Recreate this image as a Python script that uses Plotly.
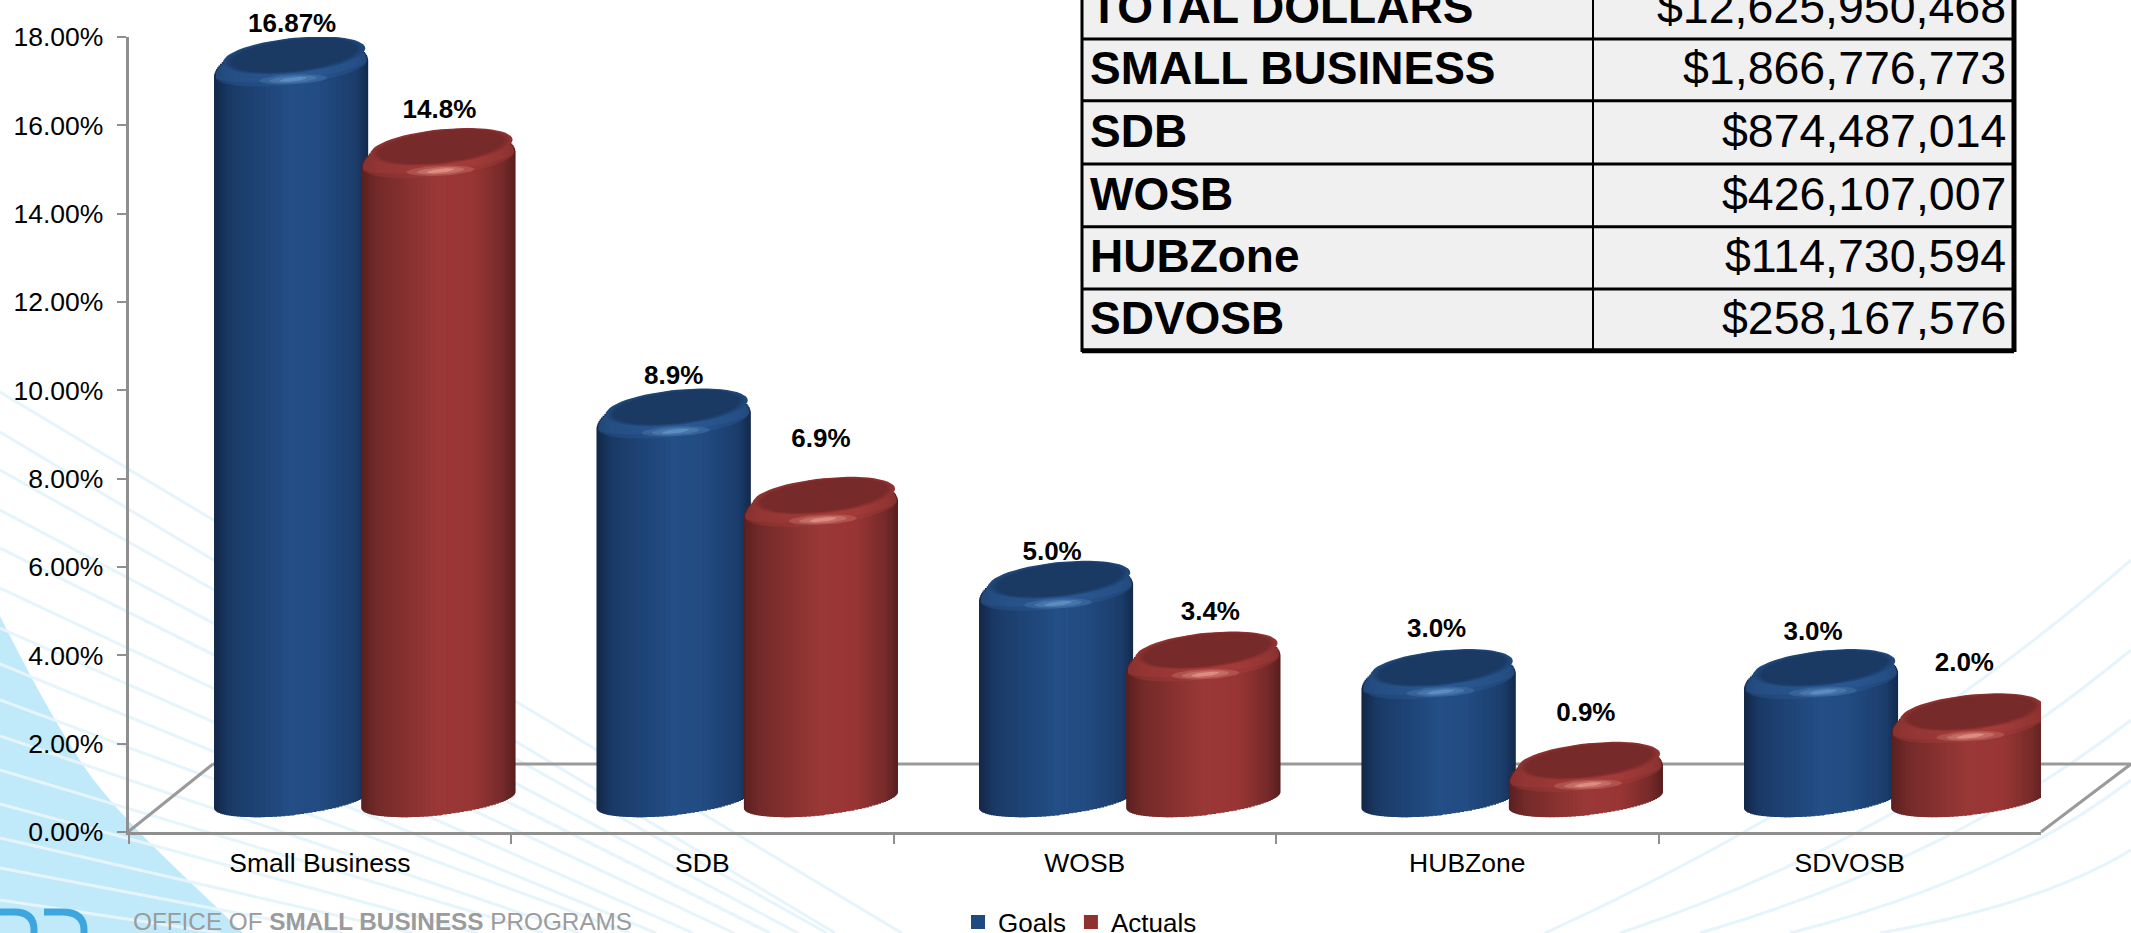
import math
import plotly.graph_objects as go

W, H = 2131, 933

# ---------- data ----------
categories = ["Small Business", "SDB", "WOSB", "HUBZone", "SDVOSB"]
goals = [16.87, 8.9, 5.0, 3.0, 3.0]
actuals = [14.8, 6.9, 3.4, 0.9, 2.0]
goal_labels = ["16.87%", "8.9%", "5.0%", "3.0%", "3.0%"]
actual_labels = ["14.8%", "6.9%", "3.4%", "0.9%", "2.0%"]
y_ticks = [0, 2, 4, 6, 8, 10, 12, 14, 16, 18]
y_tick_text = ["0.00%", "2.00%", "4.00%", "6.00%", "8.00%", "10.00%", "12.00%", "14.00%", "16.00%", "18.00%"]
table_names = ["TOTAL DOLLARS", "SMALL BUSINESS", "SDB", "WOSB", "HUBZone", "SDVOSB"]
table_values = ["$12,625,950,468", "$1,866,776,773", "$874,487,014", "$426,107,007", "$114,730,594", "$258,167,576"]

# ---------- styling / projection constants ----------
PXY = 18 / 795.0          # value units per pixel
PXX = 1 / 382.5           # category units per pixel
TOP_DEPTH = 0.41          # 3-D shift of the top ellipse
FLOOR = 0.72              # 3-D shift of the bottom ellipse
HALF_W = 77 * PXX
SHEAR = 8 * PXY
B_TOP = 30 * PXY
B_BOT = 15 * PXY
N_STRIPS = 56
SERIES = [
    dict(name="Goals", vals=goals, labels=goal_labels, off=-0.075, main="#1f4a80",
         stops=[(0, "#132748"), (0.10, "#1a3a66"), (0.5, "#234e86"), (0.68, "#224c82"), (0.92, "#1b3d6b"), (1, "#132a4c")],
         cap=["#204878", "#1e4372", "#1c3e6b", "#1a3963"], rim="#2d5f9a", glow="#6fa0d0",
         lift=[12, 12, 9, 20, 17], dx=[1, 0, -4, -2, -8]),
    dict(name="Actuals", vals=actuals, labels=actual_labels, off=0.31, main="#8e3230",
         stops=[(0, "#5a2020"), (0.10, "#732a29"), (0.5, "#9a3837"), (0.72, "#993635"), (0.92, "#752a29"), (1, "#581e1e")],
         cap=["#8f3332", "#872f2f", "#7f2c2c", "#772a2a"], rim="#a83f3b", glow="#f0a89c",
         lift=[18, 38, 19, 29, 30], dx=[1, 0, 7, 0, -4]),
]


def X(px):
    return px / W


def Y(py):
    return 1 - py / H


def hex2rgb(h):
    return [int(h[i:i + 2], 16) for i in (1, 3, 5)]


def shade(stops, t):
    for (a, ca), (b, cb) in zip(stops, stops[1:]):
        if t <= b:
            f = (t - a) / (b - a)
            ra, rb = hex2rgb(ca), hex2rgb(cb)
            return "rgb(%d,%d,%d)" % tuple(round(p + (q - p) * f) for p, q in zip(ra, rb))
    return stops[-1][1]


def rgba(h, a):
    r, g, b = hex2rgb(h)
    return "rgba(%d,%d,%d,%.3f)" % (r, g, b, a)


def ellipse(cx, cy, a, b, s, n=56):
    xs, ys = [], []
    for i in range(n + 1):
        t = 2 * math.pi * i / n
        xs.append(cx + a * math.cos(t))
        ys.append(cy + s * math.cos(t) + b * math.sin(t))
    return xs + [None], ys + [None]


def rim(cx, cy, low_px, n=56):
    xs, ys = [], []
    for i in range(n + 1):
        t = 2 * math.pi * i / n
        b = B_TOP * 0.985 if math.sin(t) > 0 else low_px * PXY
        xs.append(cx + HALF_W * 0.985 * math.cos(t))
        ys.append(cy + SHEAR * math.cos(t) + b * math.sin(t))
    return xs + [None], ys + [None]


fig = go.Figure()

# Series bars on the category axis (these carry the values and the legend)
for s in SERIES:
    fig.add_trace(go.Bar(
        name=s["name"], x=categories, y=s["vals"], base=FLOOR, width=0.28, offset=s["off"] - 0.14,
        marker=dict(color=s["main"], line=dict(width=2, color=s["main"])), cliponaxis=False, showlegend=True,
        hoverinfo="x+y+name", xaxis="x", yaxis="y"))

# Cylinder bodies: shaded strips painted from the edges towards the centre,
# each bounded by the projected ellipses
order = []
lo, hi = 0, N_STRIPS - 1
while lo <= hi:
    order.append(lo)
    if hi != lo:
        order.append(hi)
    lo += 1
    hi -= 1
OVERLAP = 3 * PXX
for s in SERIES:
    for j in order:
        u0 = -math.cos(math.pi * j / N_STRIPS)
        u1 = -math.cos(math.pi * (j + 1) / N_STRIPS)
        um = (u0 + u1) / 2
        root = math.sqrt(max(0, 1 - um * um))
        left = u0 * HALF_W
        right = u1 * HALF_W
        if um < 0:
            right += OVERLAP
        else:
            left -= OVERLAP
        xs = [i + s["off"] + (left + right) / 2 for i in range(len(categories))]
        low = FLOOR + SHEAR * um - B_BOT * root
        tops = [v + TOP_DEPTH + SHEAR * um + B_TOP * root for v in s["vals"]]
        fig.add_trace(go.Bar(
            x=xs, y=[t - low for t in tops], base=low, width=right - left,
            marker=dict(color=shade(s["stops"], (um + 1) / 2), line=dict(width=0)),
            cliponaxis=False, showlegend=False, hoverinfo="skip", xaxis="x2", yaxis="y"))

# Cylinder caps, bevel and highlight
for s in SERIES:
    for low_px, alpha in [(16, 0.35), (11, 0.35)]:
        xs, ys = [], []
        for i, v in enumerate(s["vals"]):
            a, b = rim(i + s["off"], v + TOP_DEPTH, low_px)
            xs += a
            ys += b
        fig.add_trace(go.Scatter(x=xs, y=ys, mode="lines", fill="toself", fillcolor=rgba(s["rim"], alpha),
                                 line=dict(width=0), showlegend=False, hoverinfo="skip", cliponaxis=False,
                                 xaxis="x2", yaxis="y"))
    for grow, col in zip([1.13, 1.08, 1.04, 1.0], s["cap"]):
        xs, ys = [], []
        for i, v in enumerate(s["vals"]):
            a, b = ellipse(i + s["off"] + 3 * PXX, v + TOP_DEPTH + 13.5 * PXY, 63 * PXX * grow, 15.5 * PXY * grow, 7 * PXY)
            xs += a
            ys += b
        fig.add_trace(go.Scatter(x=xs, y=ys, mode="lines", fill="toself", fillcolor=col, line=dict(width=0),
                                 showlegend=False, hoverinfo="skip", cliponaxis=False, xaxis="x2", yaxis="y"))
    for grow, alpha in [(1.0, 0.22), (0.7, 0.30), (0.4, 0.55)]:
        xs, ys = [], []
        for i, v in enumerate(s["vals"]):
            a, b = ellipse(i + s["off"] + 2 * PXX, v + TOP_DEPTH - 10.5 * PXY, 34 * PXX * grow, 5 * PXY * grow, 1.5 * PXY)
            xs += a
            ys += b
        fig.add_trace(go.Scatter(x=xs, y=ys, mode="lines", fill="toself", fillcolor=rgba(s["glow"], alpha),
                                 line=dict(width=0), showlegend=False, hoverinfo="skip", cliponaxis=False,
                                 xaxis="x2", yaxis="y"))

# Value labels (on a hidden subplot of the same scale that reaches the top of the page)
for s in SERIES:
    fig.add_trace(go.Scatter(
        x=[i + s["off"] + d * PXX for i, d in enumerate(s["dx"])],
        y=[v + TOP_DEPTH + math.sqrt(B_TOP ** 2 + SHEAR ** 2) + l * PXY for v, l in zip(s["vals"], s["lift"])],
        mode="text", text=s["labels"], textposition="middle center",
        textfont=dict(family="Liberation Sans", size=26, color="#000000"), texttemplate="<b>%{text}</b>",
        showlegend=False, hoverinfo="skip", cliponaxis=False, xaxis="x3", yaxis="y2"))

# ---------- background decoration ----------
shapes = []
shapes.append(dict(type="path", xref="paper", yref="paper", layer="below", line=dict(width=0), fillcolor="#c0e9fa",
                   path="M %f %f C %f %f %f %f %f %f C %f %f %f %f %f %f L %f %f Z" % (
                       X(0), Y(616), X(22), Y(660), X(50), Y(715), X(85), Y(768),
                       X(125), Y(825), X(190), Y(880), X(243), Y(933), X(0), Y(933))))
fan = [(392, 0.60), (432, 0.60), (470, 0.56), (510, 0.53), (548, 0.50), (588, 0.47), (628, 0.44), (664, 0.41),
       (700, 0.37), (736, 0.34), (770, 0.30), (804, 0.27), (838, 0.23), (868, 0.19), (900, 0.15)]
for y0, slope in fan:
    x1 = min(1300, (933 - y0) / slope)
    shapes.append(dict(type="line", xref="paper", yref="paper", layer="below", x0=X(0), y0=Y(y0), x1=X(x1),
                       y1=Y(y0 + slope * x1), line=dict(color="#e6f4fb", width=3)))
arcs = [(1545, 1880, 780, 2131, 560), (1620, 1900, 840, 2131, 650), (1700, 1950, 860, 2131, 720),
        (1790, 2000, 880, 2131, 780), (1880, 2040, 905, 2131, 850)]
for x0, cx, cy, x1, y1 in arcs:
    shapes.append(dict(type="path", xref="paper", yref="paper", layer="below", line=dict(color="#e6f4fb", width=3),
                       path="M %f %f Q %f %f %f %f" % (X(x0), Y(933), X(cx), Y(cy), X(x1), Y(y1))))
# floor of the 3-D chart
floor_col = "#9a9a9a"
for a, b, c, d in [(128, 832, 213, 764), (213, 764, 2131, 764), (2041, 832, 2131, 764)]:
    shapes.append(dict(type="line", xref="paper", yref="paper", layer="below", x0=X(a), y0=Y(b), x1=X(c), y1=Y(d),
                       line=dict(color=floor_col, width=3)))
# logo fragment
for path_pts in ["M %f %f L %f %f Q %f %f %f %f L %f %f" % (X(0), Y(912), X(14), Y(912), X(34), Y(912), X(34), Y(930), X(34), Y(938)),
                 "M %f %f L %f %f Q %f %f %f %f L %f %f" % (X(44), Y(912), X(62), Y(912), X(84), Y(912), X(84), Y(930), X(84), Y(938))]:
    shapes.append(dict(type="path", xref="paper", yref="paper", layer="below", path=path_pts,
                       line=dict(color="#3ea6de", width=7)))

# ---------- table ----------
TL, TM, TR = 1082, 1593, 2014
row_lines = [39, 100.7, 164, 226.7, 289, 350.7]
shapes.append(dict(type="rect", xref="paper", yref="paper", x0=X(TL), x1=X(TR), y0=Y(350.7), y1=Y(-5),
                   fillcolor="#f0f0f0", line=dict(width=0)))
for i, ry in enumerate(row_lines):
    shapes.append(dict(type="line", xref="paper", yref="paper", x0=X(TL), x1=X(TR), y0=Y(ry), y1=Y(ry),
                       line=dict(color="#000000", width=5 if i == 5 else 3)))
for px, wd in [(TL, 3), (TM, 2), (TR, 5)]:
    shapes.append(dict(type="line", xref="paper", yref="paper", x0=X(px), x1=X(px), y0=Y(352), y1=Y(-5),
                       line=dict(color="#000000", width=wd)))

annotations = []
centres = [7, 67.5, 131, 193.5, 256, 318]
for n, v, c in zip(table_names, table_values, centres):
    annotations.append(dict(text="<b>%s</b>" % n, xref="paper", yref="paper", x=X(1088), y=Y(c), xanchor="left",
                            yanchor="middle", showarrow=False, font=dict(family="Liberation Sans", size=46, color="#000")))
    annotations.append(dict(text=v, xref="paper", yref="paper", x=X(2008), y=Y(c), xanchor="right",
                            yanchor="middle", showarrow=False, font=dict(family="Liberation Sans", size=46.5, color="#000")))
annotations.append(dict(text="OFFICE OF <b>SMALL BUSINESS</b> PROGRAMS", xref="paper", yref="paper", x=X(131), y=Y(921),
                        xanchor="left", yanchor="middle", showarrow=False,
                        font=dict(family="Liberation Sans", size=24.3, color="#9b9b9b")))

axis_col = "#8f8f8f"
fig.update_layout(
    width=W, height=H, margin=dict(l=0, r=0, t=0, b=0, autoexpand=False),
    paper_bgcolor="#ffffff", plot_bgcolor="rgba(0,0,0,0)", barmode="overlay",
    font=dict(family="Liberation Sans", size=26, color="#000000"),
    xaxis=dict(type="category", categoryorder="array", categoryarray=categories, range=[-0.5, 4.5],
               domain=[X(128.6), X(2041)], tickson="boundaries", ticks="outside", ticklen=9, tickwidth=2,
               tickcolor=axis_col, showline=True, linecolor=axis_col, linewidth=3, showgrid=False, zeroline=False,
               tickfont=dict(family="Liberation Sans", size=26.5, color="#000"), ticklabelstandoff=5, anchor="y"),
    xaxis2=dict(type="linear", range=[-0.5, 4.5], domain=[X(128.6), X(2041)], overlaying="x", visible=False,
                anchor="y", showgrid=False, zeroline=False),
    xaxis3=dict(type="linear", range=[-0.5, 4.5], domain=[X(128.6), X(2041)], visible=False,
                anchor="y2", showgrid=False, zeroline=False),
    yaxis=dict(range=[0, 18], domain=[Y(832), Y(37)], tickmode="array", tickvals=y_ticks, ticktext=y_tick_text,
               ticks="outside", ticklen=9, tickwidth=2, tickcolor=axis_col, showline=True, linecolor=axis_col,
               linewidth=3, showgrid=False, zeroline=False, ticklabelstandoff=8,
               tickfont=dict(family="Liberation Sans", size=26.5, color="#000"), anchor="x"),
    yaxis2=dict(range=[0, 832 * PXY], domain=[Y(832), 1], visible=False, anchor="x3",
                showgrid=False, zeroline=False),
    legend=dict(orientation="h", x=X(958), xanchor="left", y=Y(922), yanchor="middle", bgcolor="rgba(0,0,0,0)",
                font=dict(family="Liberation Sans", size=26, color="#000"), itemwidth=30, itemclick=False,
                itemdoubleclick=False),
    shapes=shapes, annotations=annotations, showlegend=True,
)

fig.write_html("out.html", config={"displayModeBar": False},
               post_script="document.body.style.margin='0';document.body.style.overflow='hidden';")
